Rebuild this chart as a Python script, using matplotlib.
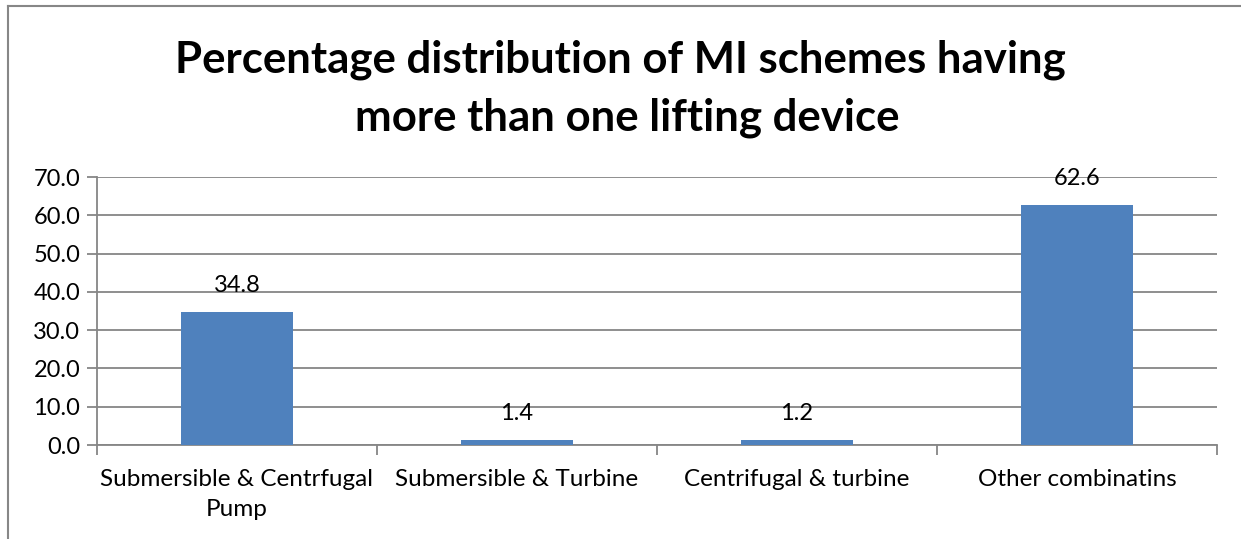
import matplotlib
matplotlib.use("Agg")
import matplotlib.pyplot as plt
from matplotlib.lines import Line2D
from matplotlib.transforms import blended_transform_factory, Affine2D

categories = ["Submersible & Centrfugal\nPump", "Submersible & Turbine",
              "Centrifugal & turbine", "Other combinatins"]
values = [34.8, 1.4, 1.2, 62.6]
yticks = [0, 10, 20, 30, 40, 50, 60, 70]
title_lines = ["Percentage distribution of MI schemes having", "more than one lifting device"]

plt.rcParams['font.family'] = ['Lato', 'DejaVu Sans']

W, H = 1241, 539
fig = plt.figure(figsize=(W/100, H/100), dpi=100)
ax = fig.add_axes([97/W, 1-445/H, (1217-97)/W, (445-177)/H])

grid_c = '#868686'
x = list(range(len(categories)))
ax.bar(x, values, width=0.4, color='#4F81BD', zorder=3)
ax.set_xlim(-0.5, len(categories)-0.5)
ax.set_ylim(0, 70)
ax.set_yticks(yticks)
ax.set_yticklabels([f"{v:.1f}" for v in yticks], fontsize=17)
for v in yticks:
    ax.axhline(v, color=grid_c, lw=1.3, zorder=1)
ax.tick_params(axis='y', length=7, width=1.3, color=grid_c, pad=5)
ax.set_xticks([i+0.5 for i in range(-1, len(categories))])
ax.set_xticklabels([])
ax.tick_params(axis='x', length=7, width=1.3, color=grid_c, direction='out')

# category labels: baseline 41px below axis, second line 30px lower
trans = blended_transform_factory(ax.transData, fig.transFigure)
for i, c in enumerate(categories):
    for j, line in enumerate(c.split("\n")):
        ax.text(i, 1-(486+30*j)/H, line, ha='center', va='baseline', fontsize=17.5,
                transform=trans)
for s in ['top', 'right']:
    ax.spines[s].set_visible(False)
for s in ['left', 'bottom']:
    ax.spines[s].set_color(grid_c)
    ax.spines[s].set_linewidth(1.3)
for i, v in enumerate(values):
    ax.annotate(f"{v:.1f}", (i, v), xytext=(0, 14.5), textcoords='offset points',
                ha='center', va='baseline', fontsize=17)

fig.text(0.5, 1-72/H, title_lines[0], ha='center', va='baseline', fontsize=31.5, fontweight='bold')
fig.text(627/W, 1-130/H, title_lines[1], ha='center', va='baseline', fontsize=31.5, fontweight='bold')

# outer frame
fig.add_artist(Line2D([8/W, 8/W], [0, 1-6/H], color='#878787', lw=1.5, transform=fig.transFigure))
fig.add_artist(Line2D([8/W, 1], [1-6/H, 1-6/H], color='#878787', lw=1.5, transform=fig.transFigure))

fig.savefig("out.png", dpi=100)
